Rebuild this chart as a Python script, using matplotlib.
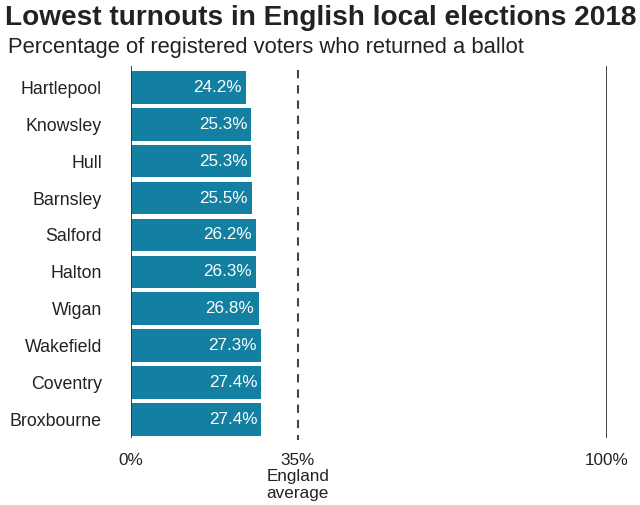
import matplotlib
matplotlib.use("Agg")
import matplotlib.pyplot as plt

plt.rcParams['font.family'] = ['Liberation Sans', 'DejaVu Sans']

areas = ["Hartlepool", "Knowsley", "Hull", "Barnsley", "Salford", "Halton",
         "Wigan", "Wakefield", "Coventry", "Broxbourne"]
turnout = [24.2, 25.3, 25.3, 25.5, 26.2, 26.3, 26.8, 27.3, 27.4, 27.4]
england_avg = 35
tick_vals = [0, 35, 100]
tick_labels = ["0%", "35%\nEngland\naverage", "100%"]

bar_color = "#1380A1"
text_color = "#222222"

fig = plt.figure(figsize=(6.4, 5.05), dpi=100)
ax = fig.add_axes([131/640, 1-438/505, (607-131)/640, (438-66)/505])

ypos = list(range(len(areas)))
ax.barh(ypos, turnout, height=0.89, color=bar_color, zorder=2)
for y, v in zip(ypos, turnout):
    ax.text(v - 0.9, y, f"{v}%", ha="right", va="center", color="white", fontsize=12.3, zorder=3)

ax.set_xlim(0, 100)
ax.set_ylim(9.49, -0.57)

ax.axvline(0, color="#333333", lw=1.3, zorder=3)
ax.axvline(100, color="#333333", lw=1.3, zorder=3)
ax.plot([england_avg, england_avg], [-0.45, 9.55], color="#444444", lw=1.5,
        linestyle=(0, (4, 3.3)), clip_on=False, zorder=3)

for s in ax.spines.values():
    s.set_visible(False)

ax.set_yticks(ypos)
ax.set_yticklabels(areas, fontsize=12.8, color=text_color)
ax.tick_params(axis="y", length=0, pad=21)

ax.set_xticks(tick_vals)
ax.set_xticklabels(tick_labels, fontsize=12.3, color=text_color, linespacing=1.15)
ax.tick_params(axis="x", length=0, pad=10.5)

fig.text(5/640, 1-18/505, "Lowest turnouts in English local elections 2018",
         fontsize=20.2, fontweight="bold", color=text_color, va="center", ha="left")
fig.text(8/640, 1-48/505, "Percentage of registered voters who returned a ballot",
         fontsize=15.8, color=text_color, va="center", ha="left")

fig.savefig("out.png", dpi=100, facecolor="white")
